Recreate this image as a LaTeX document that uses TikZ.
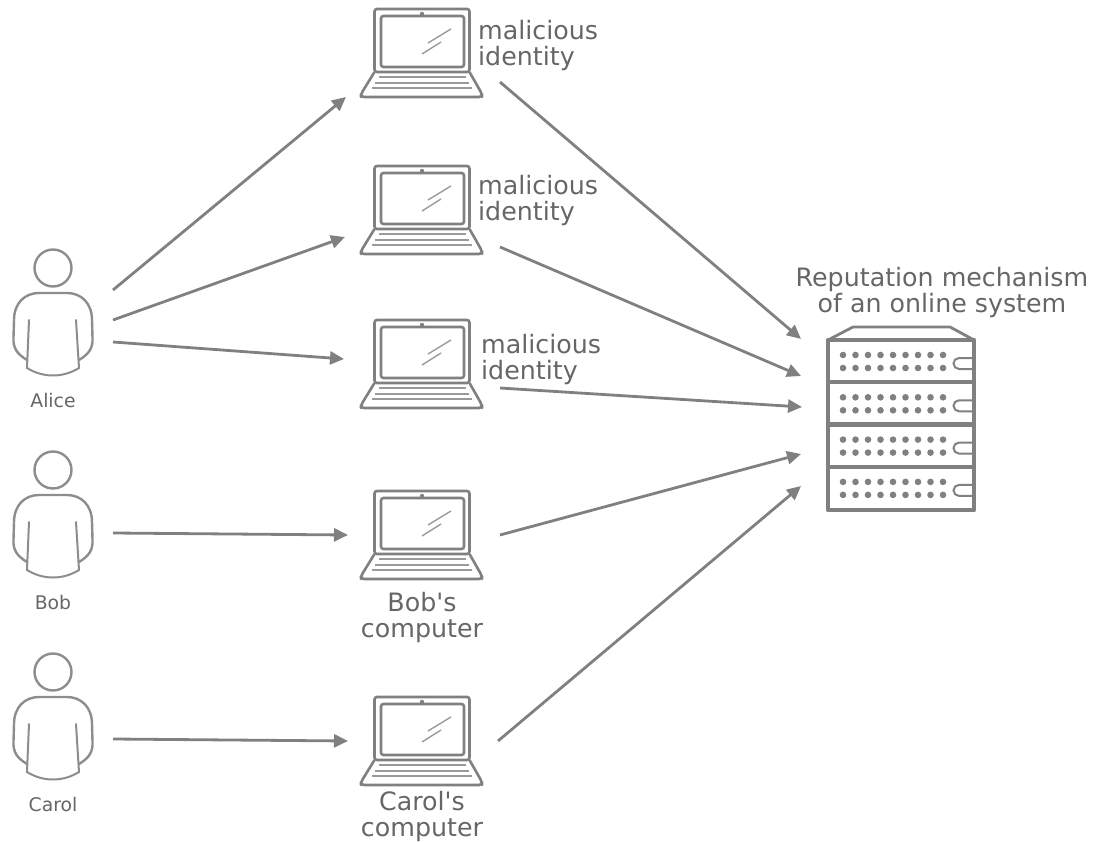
\documentclass[tikz,border=0pt]{standalone}
\usepackage{fontspec}
\newfontfamily\djv{DejaVu Sans}
\usetikzlibrary{arrows.meta}
\definecolor{ico}{HTML}{808080}
\definecolor{txt}{HTML}{666666}
\tikzset{
  x=1pt,y=-1pt,
  flow/.style={draw=ico,line width=2.8pt,-{Triangle[length=14pt,width=13pt]},shorten >=0pt},
  bigtext/.style={text=txt,font=\djv\fontsize{25.3}{26}\selectfont,align=left,inner sep=0pt,anchor=west},
  midtext/.style={text=txt,font=\djv\fontsize{25.3}{26}\selectfont,align=center,inner sep=0pt},
  nametext/.style={text=txt,font=\djv\fontsize{18.8}{20}\selectfont,inner sep=0pt},
  laptop/.pic={
    \draw[ico,line width=2.6pt,rounded corners=2.5pt] (-47.5,0) rectangle (47.5,63);
    \draw[ico,line width=2.6pt,rounded corners=2.5pt] (-41,7) rectangle (42,58);
    \fill[ico] (0,5) circle (2.2);
    \draw[ico!80,line width=1.4pt] (6,34) -- (29,20) (0,45) -- (19,33);
    \draw[ico,line width=2.6pt,rounded corners=3pt,line join=round] (-47.5,63) -- (-61,85) -- (-61,88) -- (60,88) -- (60,85) -- (47.5,63);
    \draw[ico!80,line width=1.4pt] (-43,68) -- (44,68) (-47,74) -- (47,74) (-50,79) -- (50,79);
  },
  person/.pic={
    \draw[ico!90,line width=2.4pt] (0,0) circle (18.5);
    \draw[ico!90,line width=2.4pt,line cap=round] (-26,92)
      .. controls (-36,86) and (-40,80) .. (-39.5,70)
      -- (-39,52) .. controls (-39,35) and (-28,25) .. (-14,25)
      -- (14,25) .. controls (28,25) and (39,35) .. (39,52)
      -- (39.5,70) .. controls (40,80) and (36,86) .. (26,92);
    \draw[ico!90,line width=2pt,line cap=round] (-24,52) -- (-26,100)
      .. controls (-10,110) and (10,110) .. (26,100) -- (23,52);
  }
}
\begin{document}
\begin{tikzpicture}
\useasboundingbox (0,0) rectangle (1095,842);
% people
\path (53,268) pic {person};
\path (53,470) pic {person};
\path (53,672) pic {person};
\node[nametext] (alice) at (53,400) {Alice};
\node[nametext] (bob) at (53,602) {Bob};
\node[nametext] (carol) at (53,804) {Carol};
% laptops
\path (422,9) pic {laptop};
\path (422,166) pic {laptop};
\path (422,320) pic {laptop};
\path (422,491) pic {laptop};
\path (422,697) pic {laptop};
\node[bigtext] (m1) at (478,45.5) {malicious\\identity};
\node[bigtext] (m2) at (478,201) {malicious\\identity};
\node[bigtext] (m3) at (481,359.5) {malicious\\identity};
\node[midtext] (bc) at (422,618) {Bob's\\computer};
\node[midtext] (cc) at (422,816.5) {Carol's\\computer};
\node[midtext] (rep) at (942,293) {Reputation mechanism\\of an online system};
% server
\draw[ico,line width=2.8pt,line join=round] (828,340) -- (853,327) -- (950,327) -- (974,340);
\draw[ico,line width=4.4pt,line join=round] (828,340) rectangle (974,510);
\foreach \y in {382,424.5,467} \draw[ico,line width=4.4pt] (828,\y) -- (974,\y);
\foreach \r in {0,1,2,3}{
  \foreach \c in {0,...,8}{
    \fill[ico] (843+12.5*\c,355+42.3*\r) circle (3.3);
    \fill[ico] (843+12.5*\c,368+42.3*\r) circle (3.3);
  }
  \draw[ico,line width=2pt] (972,358+42.3*\r) -- (959,358+42.3*\r) arc[start angle=270,end angle=90,radius=5.5] -- (972,369+42.3*\r);
}
% connector ends
\coordinate (a1) at (113,290); \coordinate (l1in) at (346,97);
\coordinate (a2) at (113,320); \coordinate (l2in) at (345,237);
\coordinate (a3) at (113,342); \coordinate (l3in) at (344,359);
\coordinate (b1) at (113,533); \coordinate (l4in) at (348,535);
\coordinate (c1) at (113,739); \coordinate (l5in) at (348,741);
\coordinate (l1out) at (500,82); \coordinate (s1) at (801,339);
\coordinate (l2out) at (500,247); \coordinate (s2) at (801,376);
\coordinate (l3out) at (500,388); \coordinate (s3) at (802,407);
\coordinate (l4out) at (500,535); \coordinate (s4) at (801,454);
\coordinate (l5out) at (498,741); \coordinate (s5) at (801,486);
\foreach \p/\q in {a1/l1in,a2/l2in,a3/l3in,b1/l4in,c1/l5in,l1out/s1,l2out/s2,l3out/s3,l4out/s4,l5out/s5}
  \draw[flow] (\p) -- (\q);
\end{tikzpicture}
\end{document}
